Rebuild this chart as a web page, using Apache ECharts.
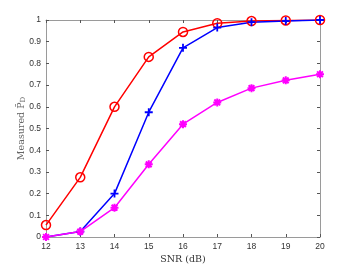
<!DOCTYPE html>
<html>
<head>
<meta charset="utf-8">
<script src="https://cdn.jsdelivr.net/npm/echarts@6/dist/echarts.min.js"></script>
<style>html,body{margin:0;padding:0;background:#fff}#c{width:354px;height:266px}</style>
</head>
<body>
<div id="c"></div>
<script>
const snr = [12, 13, 14, 15, 16, 17, 18, 19, 20];
const redVals = [0.055, 0.275, 0.60, 0.83, 0.945, 0.985, 0.995, 0.998, 1.0];
const blueVals = [0.0, 0.025, 0.20, 0.575, 0.872, 0.965, 0.99, 0.995, 1.0];
const magentaVals = [0.0, 0.025, 0.135, 0.335, 0.52, 0.62, 0.686, 0.722, 0.75];
const xTitle = 'SNR (dB)';

const pair = v => snr.map((x, i) => [x, v[i]]);
const chart = echarts.init(document.getElementById('c'), null, {renderer: 'canvas'});
const axisCol = '#9a9a9a';
const labCol = '#333';
const tickFont = {color: labCol, fontSize: 8.5, fontFamily: 'Liberation Sans, Arial, sans-serif'};

function xAxis(pos, show) {
  return {
    type: 'value', position: pos, min: 12, max: 20, interval: 1,
    axisLine: {show: true, onZero: false, lineStyle: {color: axisCol, width: 1}},
    axisTick: {show: true, inside: true, length: 3, lineStyle: {color: '#555'}},
    axisLabel: show ? Object.assign({margin: 5}, tickFont) : {show: false},
    splitLine: {show: false},
    name: show ? xTitle : '', nameLocation: 'middle', nameGap: 18, nameMoveOverlap: false,
    nameTextStyle: {fontFamily: 'DejaVu Serif, Liberation Serif, serif', fontSize: 9.5, color: '#333', verticalAlign: 'top'}
  };
}
function yAxis(pos, show) {
  return {
    type: 'value', position: pos, min: 0, max: 1, interval: 0.1,
    axisLine: {show: true, onZero: false, lineStyle: {color: axisCol, width: 1}},
    axisTick: {show: true, inside: true, length: 3, lineStyle: {color: '#555'}},
    axisLabel: show ? Object.assign({margin: 5, formatter: v => (Math.round(v * 10) / 10).toString()}, tickFont) : {show: false},
    splitLine: {show: false},
    name: show ? '{a|Measured P\u0304}{s|D}' : '', nameLocation: 'middle', nameGap: 19, nameMoveOverlap: false,
    nameTextStyle: {
      verticalAlign: 'bottom',
      rich: {
        a: {fontFamily: 'DejaVu Serif, Liberation Serif, serif', fontSize: 9.5, color: '#666'},
        s: {fontFamily: 'DejaVu Serif, Liberation Serif, serif', fontSize: 7, color: '#666', padding: [4, 0, 0, 0]}
      }
    }
  };
}

const plusPath = 'path://M0,-5V5M-5,0H5';
const starPath = 'path://M0,-5V5M-5,0H5M-3.6,-3.6L3.6,3.6M-3.6,3.6L3.6,-3.6';

chart.setOption({
  animation: false,
  grid: {left: 46, right: 34, top: 20, bottom: 29, containLabel: false, outerBoundsMode: 'none'},
  xAxis: [xAxis('bottom', true), xAxis('top', false)],
  yAxis: [yAxis('left', true), yAxis('right', false)],
  series: [
    {
      type: 'line', data: pair(redVals), symbol: 'circle', symbolSize: 9,
      lineStyle: {color: '#ff0000', width: 1.5},
      itemStyle: {color: 'rgba(255,255,255,0)', borderColor: '#ff0000', borderWidth: 1.5}
    },
    {
      type: 'line', data: pair(blueVals), symbol: plusPath, symbolSize: 8,
      lineStyle: {color: '#0000ff', width: 1.5},
      itemStyle: {color: '#0000ff', borderColor: '#0000ff', borderWidth: 1.8}
    },
    {
      type: 'line', data: pair(magentaVals), symbol: starPath, symbolSize: 8,
      lineStyle: {color: '#ff00ff', width: 1.5},
      itemStyle: {color: '#ff00ff', borderColor: '#ff00ff', borderWidth: 2}
    }
  ]
});
</script>
</body>
</html>
